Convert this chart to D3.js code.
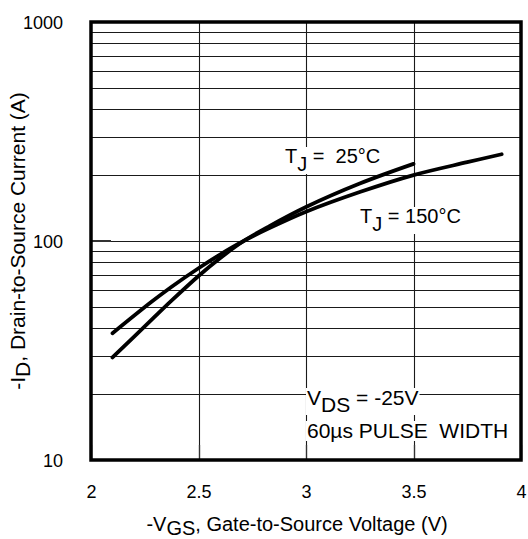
<!DOCTYPE html>
<html>
<head>
<meta charset="utf-8">
<script src="https://cdn.jsdelivr.net/npm/d3@7"></script>
<style>
  html, body { margin: 0; padding: 0; background: #fff; }
  svg { display: block; }
  text { font-family: "Liberation Sans", Arial, Helvetica, sans-serif; fill: #000; white-space: pre; }
</style>
</head>
<body>
<svg id="chart" width="528" height="539"></svg>
<script>
// ---- data ----
const vgs25 = [2.1, 2.28, 2.372, 2.5, 2.6, 2.71, 2.83, 3.0, 3.25, 3.5];
const id25  = [29.4, 43.5, 53.1, 69.2, 83.4, 100, 117, 143, 183, 225];
const vgs150 = [2.1, 2.28, 2.372, 2.5, 2.6, 2.71, 2.83, 3.0, 3.25, 3.5, 3.75, 3.91];
const id150  = [37.9, 52.6, 61.5, 75.1, 86.7, 100, 114.5, 136, 167.3, 200, 229, 249];
const xTicks = [2, 2.5, 3, 3.5, 4];
const yTicks = [10, 100, 1000];
const xLabel = ["-V", "GS", ", Gate-to-Source Voltage (V)"];
const yLabel = ["-I", "D", ", Drain-to-Source Current (A)"];

const W = 528, H = 539;
const L = 91, R = 521, T = 22, B = 460;
const FS = 18;

const svg = d3.select("#chart");
const x = d3.scaleLinear().domain([2, 4]).range([L, R]);
const y = d3.scaleLog().domain([10, 1000]).range([B, T]);

// grid
const hVals = [];
for (let d = 10; d < 1000; d *= 10) for (let k = 1; k <= 9; k++) hVals.push(d * k);
const grid = svg.append("g");
grid.selectAll("line.h").data(hVals.filter(v => v > 10)).join("line")
  .attr("x1", L).attr("x2", R)
  .attr("y1", d => Math.round(y(d)) + 0.5).attr("y2", d => Math.round(y(d)) + 0.5)
  .attr("stroke", "#1a1a1a").attr("stroke-width", 1.1);
grid.selectAll("line.v").data([2.5, 3, 3.5]).join("line")
  .attr("y1", T).attr("y2", B)
  .attr("x1", d => Math.round(x(d)) + 0.5).attr("x2", d => Math.round(x(d)) + 0.5)
  .attr("stroke", "#1a1a1a").attr("stroke-width", 1.1);

// annotation layer (white backgrounds hide grid behind text)
const ann = svg.append("g");
function label(px, py, fs, parts) {
  const g = ann.append("g");
  const bg = g.append("rect").attr("fill", "#fff");
  const t = g.append("text").attr("x", px).attr("y", py).attr("font-size", fs);
  parts.forEach(p => {
    t.append("tspan").attr("dy", p.dy || 0).text(p.s);
  });
  const bb = t.node().getBBox();
  bg.attr("x", bb.x - 1).attr("y", bb.y + 2).attr("width", bb.width + 2).attr("height", bb.height - 3);
  return g;
}
label(285, 163, 20, [{s: "T"}, {s: "J", dy: 8}, {s: " =  25°C", dy: -8}]);
label(360, 223, 20, [{s: "T"}, {s: "J", dy: 8}, {s: " = 150°C", dy: -8}]);
label(307, 405, 21, [{s: "V"}, {s: "DS", dy: 7}, {s: " = -25V", dy: -7}]);
label(307, 438, 21, [{s: "60µs PULSE  WIDTH"}]);

// inner ticks
svg.append("g").selectAll("line").data(yTicks).join("line")
  .attr("x1", L).attr("x2", L + 20)
  .attr("y1", d => y(d)).attr("y2", d => y(d))
  .attr("stroke", "#333").attr("stroke-width", 2);
svg.append("g").selectAll("line").data(xTicks).join("line")
  .attr("x1", d => Math.round(x(d)) + 0.5).attr("x2", d => Math.round(x(d)) + 0.5)
  .attr("y1", B).attr("y2", B - 15)
  .attr("stroke", "#333").attr("stroke-width", 1.3);

// frame
svg.append("rect").attr("x", L).attr("y", T).attr("width", R - L).attr("height", B - T)
  .attr("fill", "none").attr("stroke", "#000").attr("stroke-width", 3.5);

// curves
const line = d3.line().x(d => x(d[0])).y(d => y(d[1])).curve(d3.curveCatmullRom.alpha(0.5));
[[vgs25, id25], [vgs150, id150]].forEach(([xs, ys]) => {
  svg.append("path").datum(xs.map((v, i) => [v, ys[i]]))
    .attr("d", line).attr("fill", "none").attr("stroke", "#000")
    .attr("stroke-width", 3.8).attr("stroke-linecap", "round").attr("stroke-linejoin", "round");
});

// axes
const xAxis = svg.append("g").attr("transform", `translate(0,${B})`)
  .call(d3.axisBottom(x).tickValues(xTicks).tickSize(0).tickFormat(d3.format("")));
xAxis.select(".domain").remove();
xAxis.selectAll("text").attr("y", 38).attr("dy", 0).attr("font-size", FS)
  .style("font-family", "'Liberation Sans', Arial, sans-serif");

const yAxis = svg.append("g").attr("transform", `translate(${L},0)`)
  .call(d3.axisLeft(y).tickValues(yTicks).tickSize(0).tickPadding(28).tickFormat(d3.format("d")));
yAxis.select(".domain").remove();
yAxis.selectAll("text").attr("dy", "0.36em").attr("font-size", FS)
  .style("font-family", "'Liberation Sans', Arial, sans-serif");

// axis titles
const xt = svg.append("text").attr("x", 297).attr("y", 531).attr("text-anchor", "middle").attr("font-size", 20);
xt.append("tspan").text(xLabel[0]);
xt.append("tspan").attr("dy", 3.5).text(xLabel[1]);
xt.append("tspan").attr("dy", -3.5).text(xLabel[2]);

const yt = svg.append("text").attr("transform", "translate(25,241) rotate(-90)")
  .attr("text-anchor", "middle").attr("font-size", 21);
yt.append("tspan").text(yLabel[0]);
yt.append("tspan").attr("dy", 5).text(yLabel[1]);
yt.append("tspan").attr("dy", -5).text(yLabel[2]);
</script>
</body>
</html>
